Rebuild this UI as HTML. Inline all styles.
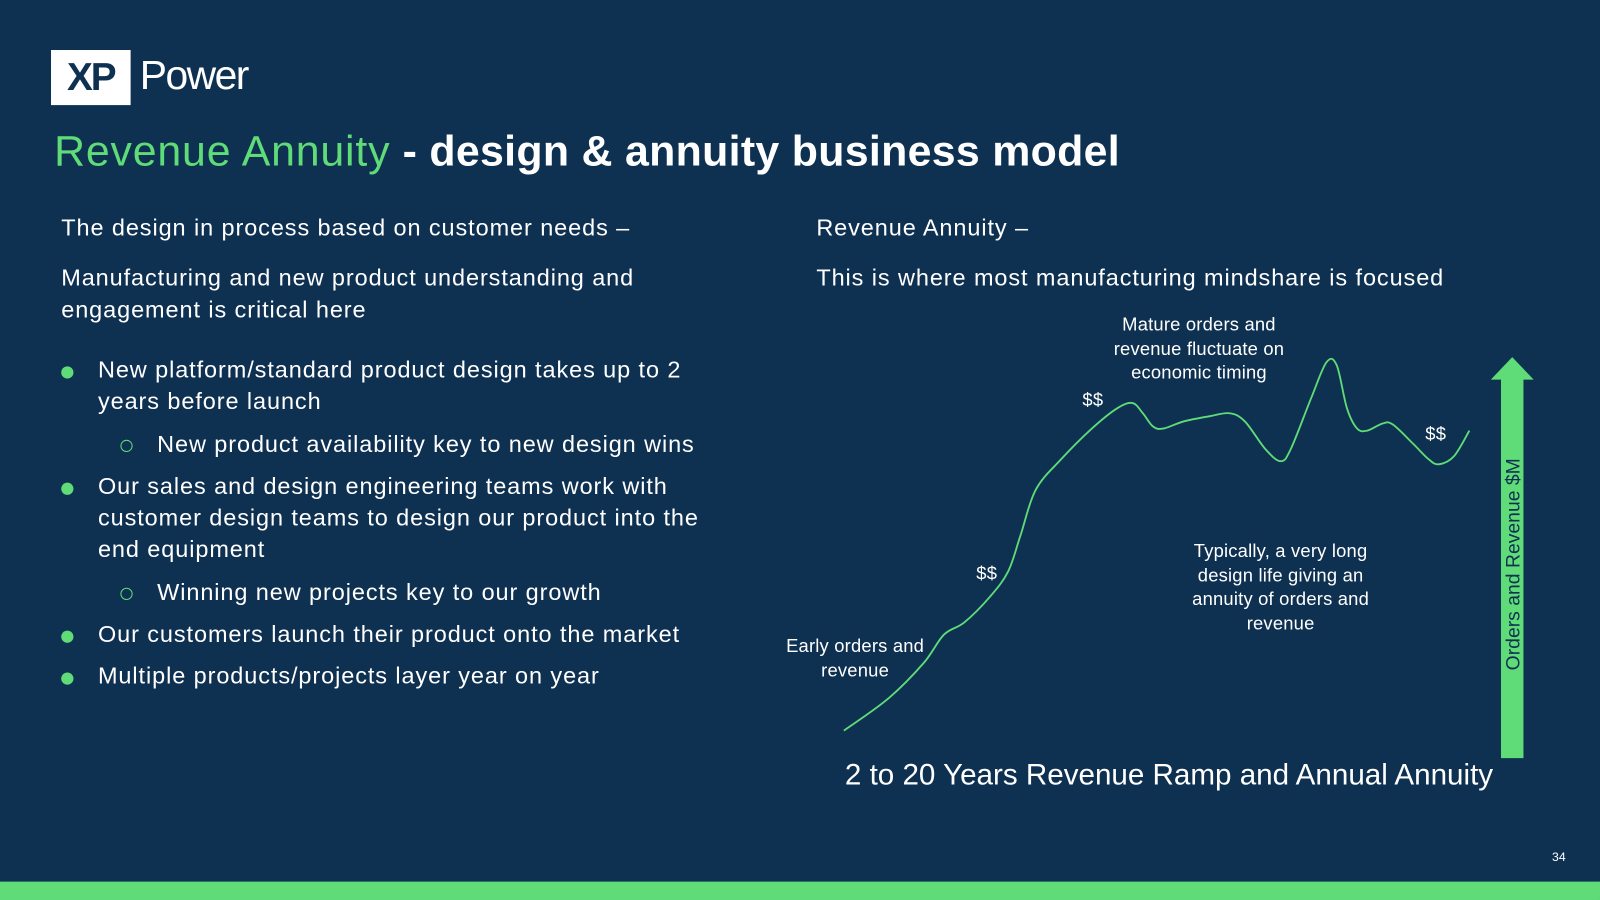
<!DOCTYPE html>
<html><head><meta charset="utf-8"><style>
html,body{margin:0;padding:0;background:#0f3151;overflow:hidden}
#wrap{position:absolute;left:0;top:0;width:1568px;height:882px;transform:scale(1.0204);transform-origin:0 0;font-family:"Liberation Sans",sans-serif;color:#fff}
.abs{position:absolute;white-space:nowrap}
.body{font-size:23px;line-height:31px;letter-spacing:0.9px}
.dot{position:absolute;width:12px;height:12px;border-radius:50%;background:#5fdc78}
.ring{position:absolute;width:10px;height:10px;border-radius:50%;border:1.5px solid #5fdc78}
.lab{position:absolute;font-size:18px;line-height:23.5px;text-align:center;white-space:nowrap;letter-spacing:0.2px}
</style></head><body>
<div id="wrap">
<div class="abs" style="left:50px;top:49px;width:78px;height:54px;background:#fff;color:#0f3151;font-weight:bold;font-size:38px;line-height:54px;text-align:center;letter-spacing:-2px">XP</div>
<div class="abs" style="left:137px;top:52px;font-size:40px;letter-spacing:-1.5px">Power</div>
<div class="abs" style="left:53px;top:124px;font-size:42px;font-weight:bold;letter-spacing:0.3px"><span style="color:#5fdc78;font-weight:normal;letter-spacing:0.8px">Revenue Annuity</span> - design &amp; annuity business model</div>

<div class="abs body" style="left:60px;top:208px">The design in process based on customer needs –</div>
<div class="abs body" style="left:60px;top:257px">Manufacturing and new product understanding and<br>engagement is critical here</div>
<div class="dot" style="left:60px;top:359px"></div>
<div class="abs body" style="left:96px;top:347px">New platform/standard product design takes up to 2<br>years before launch</div>
<div class="ring" style="left:118px;top:431px"></div>
<div class="abs body" style="left:154px;top:420px">New product availability key to new design wins</div>
<div class="dot" style="left:60px;top:473px"></div>
<div class="abs body" style="left:96px;top:461px">Our sales and design engineering teams work with<br>customer design teams to design our product into the<br>end equipment</div>
<div class="ring" style="left:118px;top:576px"></div>
<div class="abs body" style="left:154px;top:565px">Winning new projects key to our growth</div>
<div class="dot" style="left:60px;top:618px"></div>
<div class="abs body" style="left:96px;top:606px">Our customers launch their product onto the market</div>
<div class="dot" style="left:60px;top:659px"></div>
<div class="abs body" style="left:96px;top:647px">Multiple products/projects layer year on year</div>

<div class="abs body" style="left:800px;top:208px">Revenue Annuity –</div>
<div class="abs body" style="left:800px;top:257px">This is where most manufacturing mindshare is focused</div>

<svg id="chart" class="abs" style="left:0;top:0" width="1568" height="882"></svg>

<div class="lab" style="left:1075px;top:307px;width:200px">Mature orders and<br>revenue fluctuate on<br>economic timing</div>
<div class="lab" style="left:758px;top:622px;width:160px">Early orders and<br>revenue</div>
<div class="lab" style="left:1150px;top:529px;width:210px">Typically, a very long<br>design life giving an<br>annuity of orders and<br>revenue</div>
<div class="lab" style="left:950px;top:551px;width:34px">$$</div>
<div class="lab" style="left:1054px;top:381px;width:34px">$$</div>
<div class="lab" style="left:1390px;top:414px;width:34px">$$</div>
<div class="abs" style="left:828px;top:744px;font-size:29px">2 to 20 Years Revenue Ramp and Annual Annuity</div>
<div class="abs" style="left:1521px;top:833px;font-size:12px">34</div>
<div class="abs" style="left:0;top:864px;width:1568px;height:18px;background:#5fdc78"></div>
</div>
<script>
const xs=[0,43,78,98,118,143,161,173,188,213,243,268,283,293,303,313,333,358,378,393,413,428,438,458,473,483,493,503,513,528,538,558,573,583,598,613];
const ys=[0,31,66,94,106,131,156,191,236,266,296,316,321,311,298,296,303,308,311,303,276,264,276,326,361,358,316,296,294,301,300,281,266,261,269,294];
const svg=document.getElementById('chart');
const NS='http://www.w3.org/2000/svg';
const X=v=>827+v, Y=v=>716-v;
const P=xs.map((x,i)=>[X(x),Y(ys[i])]);
let d='M'+P[0][0]+','+P[0][1];
for(let i=0;i<P.length-1;i++){const p0=P[Math.max(i-1,0)],p1=P[i],p2=P[i+1],p3=P[Math.min(i+2,P.length-1)];
d+=' C'+(p1[0]+(p2[0]-p0[0])/6)+','+(p1[1]+(p2[1]-p0[1])/6)+' '+(p2[0]-(p3[0]-p1[0])/6)+','+(p2[1]-(p3[1]-p1[1])/6)+' '+p2[0]+','+p2[1];}
const path=document.createElementNS(NS,'path');


path.setAttribute('d',d);path.setAttribute('fill','none');path.setAttribute('stroke','#5fdc78');path.setAttribute('stroke-width','1.8');
svg.appendChild(path);
const arrow=document.createElementNS(NS,'polygon');


arrow.setAttribute('points','1471,743 1471,372 1461,372 1482,350 1503,372 1493,372 1493,743');
arrow.setAttribute('fill','#5fdc78');
svg.appendChild(arrow);
const t=document.createElementNS(NS,'text');


t.setAttribute('transform','translate(1489,553) rotate(-90)');
t.setAttribute('text-anchor','middle');t.setAttribute('font-size','19');t.setAttribute('fill','#0f3151');
t.setAttribute('font-family','Liberation Sans, sans-serif');
t.textContent='Orders and Revenue $M';
svg.appendChild(t);
</script>
</body></html>
